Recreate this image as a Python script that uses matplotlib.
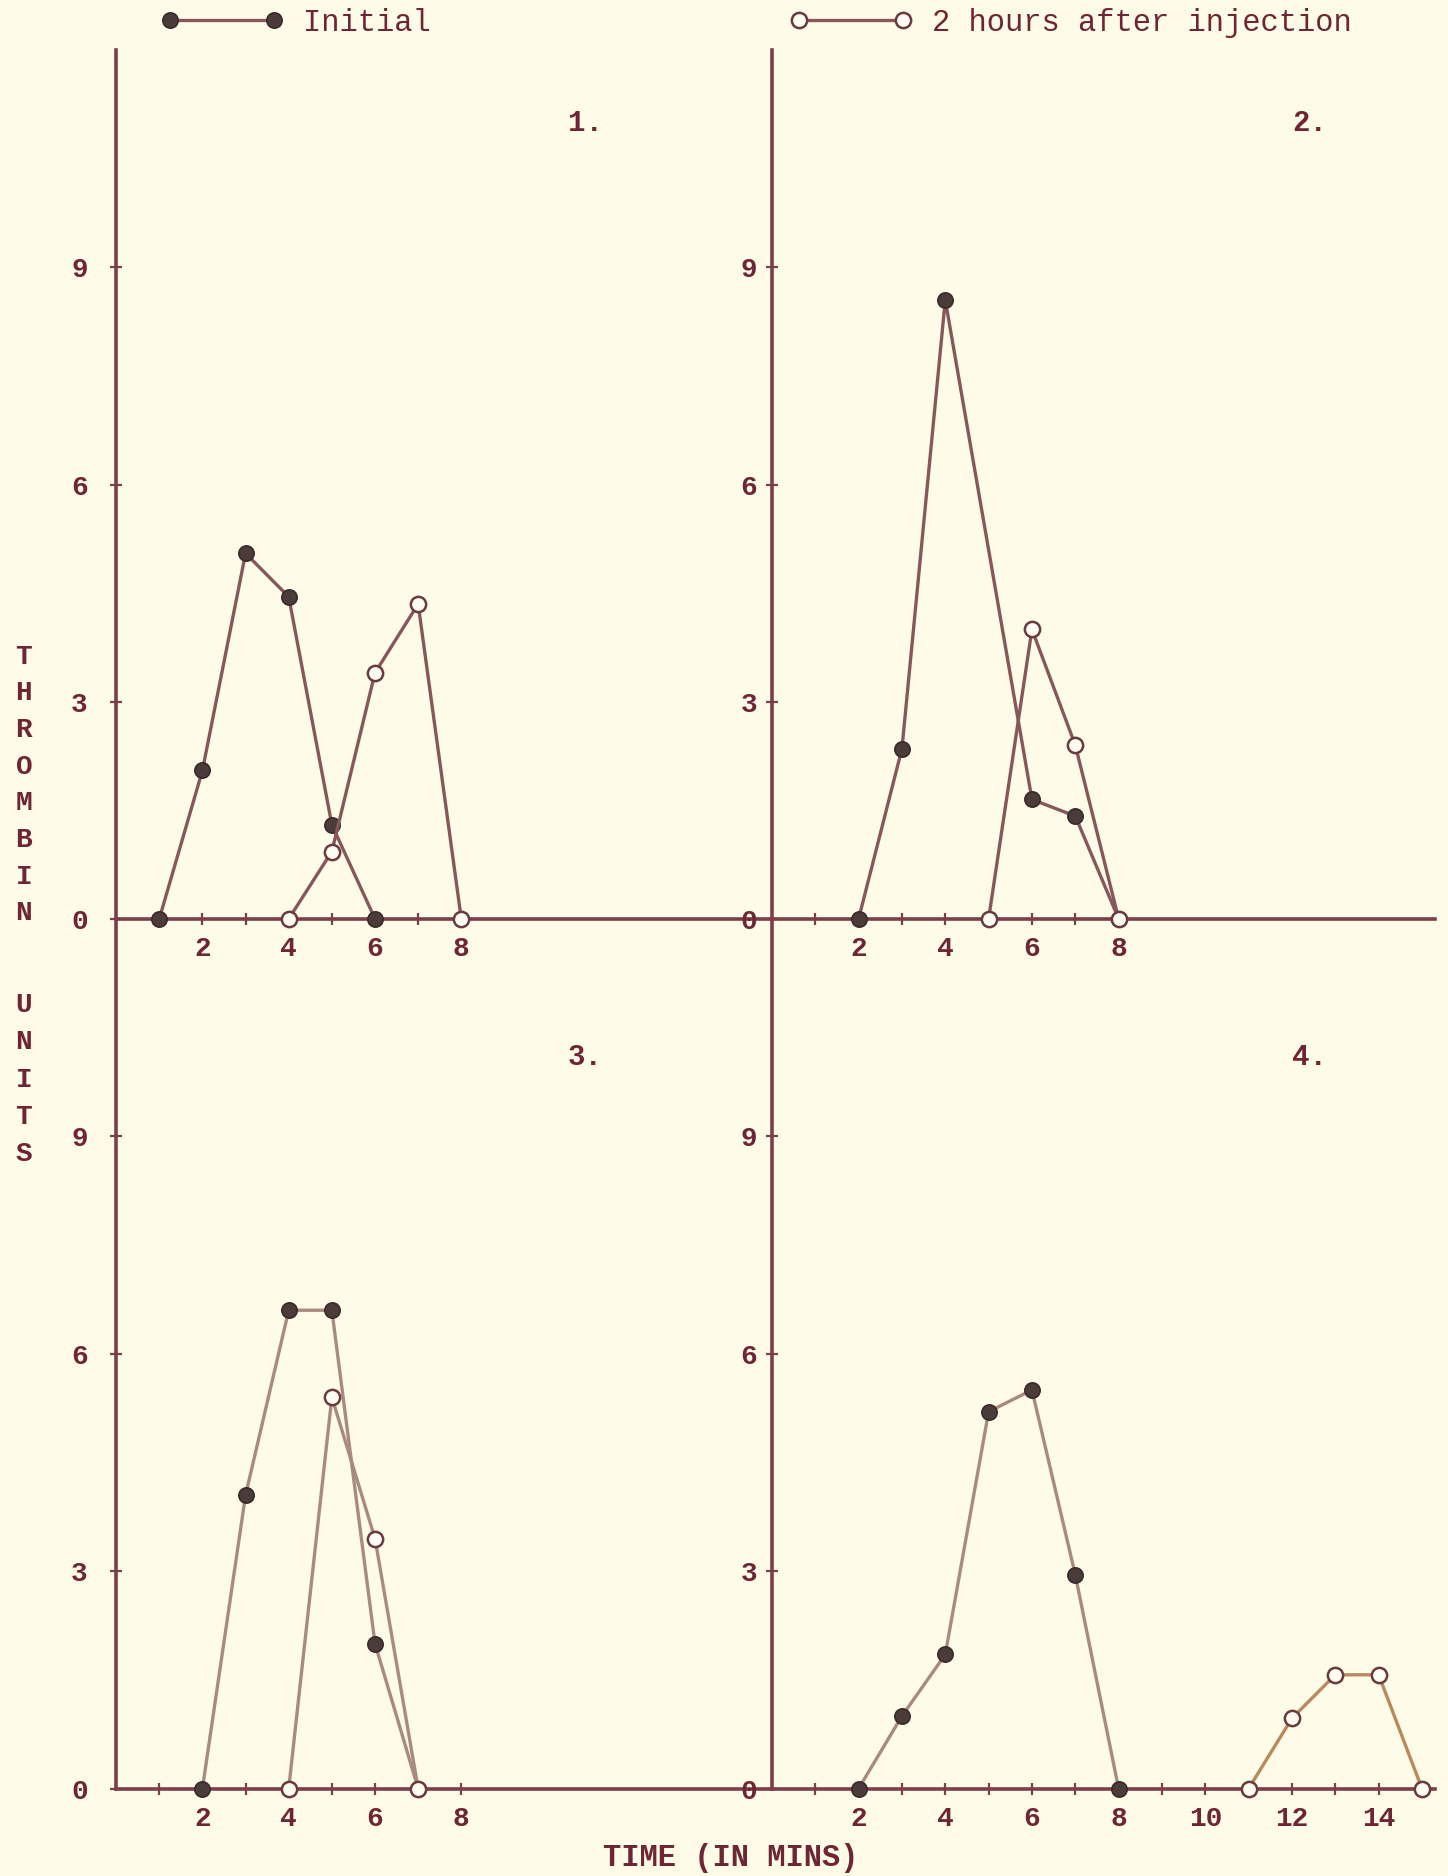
import matplotlib
matplotlib.use("Agg")
import matplotlib.pyplot as plt
from matplotlib.lines import Line2D

plt.rcParams.update({
    "font.family": ["Liberation Mono", "DejaVu Sans Mono"],
    "font.weight": "bold",
})

BG = "#fefce9"
INK = "#6e2634"
AXIS = "#7a3f4a"
LINE_TOP = "#86585c"
LINE_BOT = "#a98a80"
DOT = "#4b3c3a"

# panel 1
p1_init_x = [1, 2, 3, 4, 5, 6]
p1_init_y = [0, 2.05, 5.05, 4.45, 1.3, 0]
p1_post_x = [4, 5, 6, 7, 8]
p1_post_y = [0, 0.93, 3.4, 4.35, 0]

# panel 2
p2_init_x = [2, 3, 4, 6, 7, 8]
p2_init_y = [0, 2.35, 8.55, 1.65, 1.42, 0]
p2_post_x = [5, 6, 7, 8]
p2_post_y = [0, 4.0, 2.4, 0]

# panel 3
p3_init_x = [2, 3, 4, 5, 6, 7]
p3_init_y = [0, 4.05, 6.6, 6.6, 2.0, 0]
p3_post_x = [4, 5, 6, 7]
p3_post_y = [0, 5.4, 3.45, 0]

# panel 4
p4_init_x = [2, 3, 4, 5, 6, 7, 8]
p4_init_y = [0, 1.0, 1.85, 5.2, 5.5, 2.95, 0]
p4_post_x = [11, 12, 13, 14, 15]
p4_post_y = [0, 0.97, 1.57, 1.57, 0]

y_ticks = [0, 3, 6, 9]
x_labels_short = [2, 4, 6, 8]
x_labels_long = [2, 4, 6, 8, 10, 12, 14]

fig = plt.figure(figsize=(14.48, 18.76), dpi=100, facecolor=BG)

# [left, bottom, width, height], xmax, label pad, panel name, data, line colour
panels = [
    ([0.0802, 0.5102, 0.4529, 0.4630], 15.2, 16, "1.",
     p1_init_x, p1_init_y, p1_post_x, p1_post_y, LINE_TOP, LINE_TOP, 8),
    ([0.5331, 0.5102, 0.4579, 0.4630], 15.3, 6, "2.",
     p2_init_x, p2_init_y, p2_post_x, p2_post_y, LINE_TOP, LINE_TOP, 8),
    ([0.0802, 0.0466, 0.4529, 0.4636], 15.2, 16, "3.",
     p3_init_x, p3_init_y, p3_post_x, p3_post_y, LINE_BOT, LINE_BOT, 8),
    ([0.5331, 0.0466, 0.4579, 0.4636], 15.3, 6, "4.",
     p4_init_x, p4_init_y, p4_post_x, p4_post_y, LINE_BOT, "#b98a5e", 14),
]

for rect, xmax, ypad, name, ix, iy, px, py, c1, c2, last in panels:
    ax = fig.add_axes(rect)
    ax.set_facecolor("none")
    ax.plot(ix, iy, color=c1, lw=2.4, marker="o", ms=11,
            mfc=DOT, mec="#3a2a2a", mew=1.2, zorder=3, clip_on=False)
    ax.plot(px, py, color=c2, lw=2.4, marker="o", ms=11,
            mfc="#fffdf2", mec="#6a3a3e", mew=1.8, zorder=4, clip_on=False)
    ax.set_xlim(0, xmax)
    ax.set_ylim(0, 12)
    for s in ["top", "right"]:
        ax.spines[s].set_visible(False)
    for s in ["left", "bottom"]:
        ax.spines[s].set_color(AXIS)
        ax.spines[s].set_linewidth(2.6)
    labs = x_labels_long if last == 14 else x_labels_short
    ax.set_xticks(labs)
    ax.set_xticklabels([str(v) for v in labs])
    ax.set_xticks(range(1, last + 1), minor=True)
    ax.set_yticks(y_ticks)
    ax.set_yticklabels([str(v) for v in y_ticks])
    ax.tick_params(axis="x", which="both", direction="inout", length=9,
                   width=1.6, color=AXIS, labelcolor=INK, labelsize=20, pad=8)
    ax.tick_params(axis="y", direction="inout", length=9, width=1.6,
                   color=AXIS, labelcolor=INK, labelsize=20, pad=ypad)
    ax.text(xmax * 0.715 if xmax < 15.25 else 12.4, 11.0 if name in "1.2." else 10.1,
            name, color=INK, fontsize=21, ha="center", va="center")

# legend across the top
h_init = Line2D([], [], color=LINE_TOP, lw=2.4, marker="o", ms=11,
                mfc=DOT, mec="#3a2a2a", mew=1.2)
h_post = Line2D([], [], color=LINE_TOP, lw=2.4, marker="o", ms=11,
                mfc="#fffdf2", mec="#6a3a3e", mew=1.8)
for h, lab, x0 in [(h_init, "Initial", 0.111), (h_post, "2 hours after injection", 0.5456)]:
    leg = fig.legend(handles=[h], labels=[lab], loc="center left",
                     bbox_to_anchor=(x0, 0.9877), frameon=False, numpoints=2,
                     handlelength=4.0, handletextpad=0.65, borderpad=0,
                     borderaxespad=0, prop={"size": 22, "weight": "normal"})
    for t in leg.get_texts():
        t.set_color(INK)

# y label, typed one letter per line
word1 = "THROMBIN"
word2 = "UNITS"
for i, ch in enumerate(word1):
    fig.text(0.0165, 1 - (549 + 30.6 * i) / 1568, ch, color=INK,
             fontsize=20, ha="center", va="center")
for i, ch in enumerate(word2):
    fig.text(0.0165, 1 - (840 + 31.2 * i) / 1568, ch, color=INK,
             fontsize=20, ha="center", va="center")

fig.text(0.505, 1 - 1553 / 1568, "TIME (IN MINS)", color=INK,
         fontsize=22, ha="center", va="center")

fig.savefig("out.png", dpi=100, facecolor=BG)
